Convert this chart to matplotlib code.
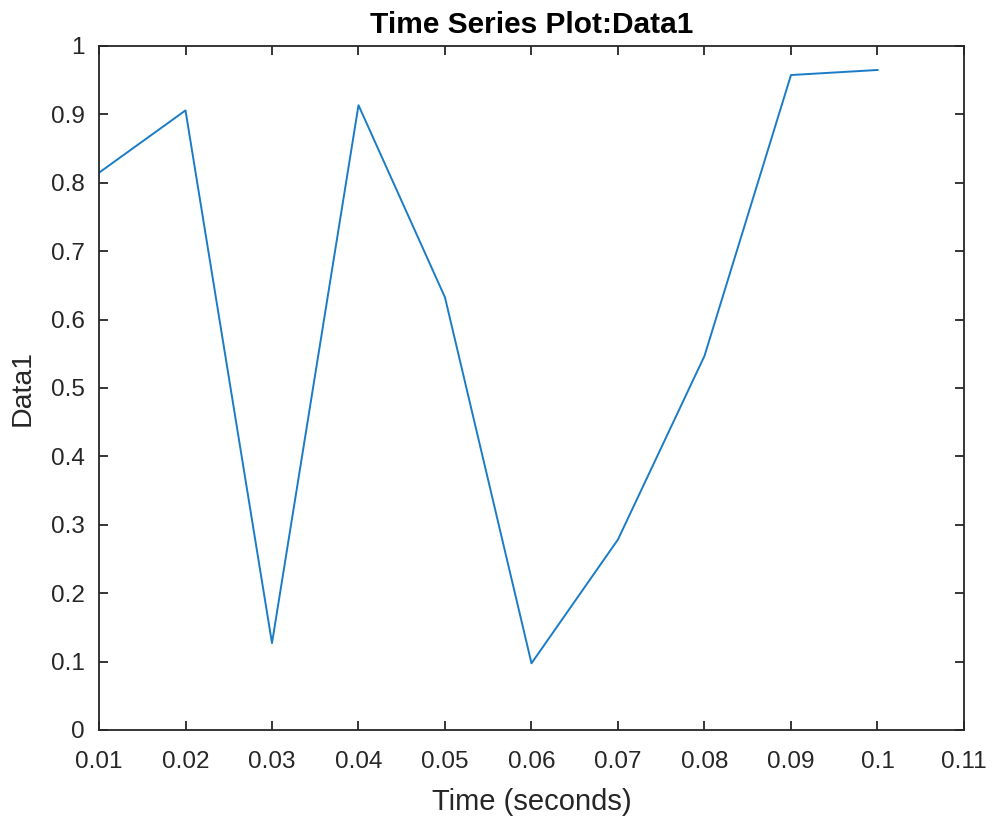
import matplotlib
matplotlib.use("Agg")
import matplotlib.pyplot as plt

time_s = [0.01, 0.02, 0.03, 0.04, 0.05, 0.06, 0.07, 0.08, 0.09, 0.10]
data1 = [0.8147, 0.9058, 0.1270, 0.9134, 0.6324, 0.0975, 0.2785, 0.5469, 0.9575, 0.9649]
x_ticks = [0.01, 0.02, 0.03, 0.04, 0.05, 0.06, 0.07, 0.08, 0.09, 0.10, 0.11]
x_tick_labels = ["0.01", "0.02", "0.03", "0.04", "0.05", "0.06", "0.07", "0.08", "0.09", "0.1", "0.11"]
y_ticks = [0, 0.1, 0.2, 0.3, 0.4, 0.5, 0.6, 0.7, 0.8, 0.9, 1]
y_tick_labels = ["0", "0.1", "0.2", "0.3", "0.4", "0.5", "0.6", "0.7", "0.8", "0.9", "1"]

plt.rcParams["font.family"] = ["Liberation Sans", "DejaVu Sans"]
axis_color = "#262626"

fig = plt.figure(figsize=(9.94, 8.18), dpi=100)
ax = fig.add_axes([0.0996, 0.1076, 0.8702, 0.8362])

ax.plot(time_s, data1, color="#1a7cc6", linewidth=1.4)

ax.set_xlim(0.01, 0.11)
ax.set_ylim(0, 1)
ax.set_xticks(x_ticks)
ax.set_xticklabels(x_tick_labels)
ax.set_yticks(y_ticks)
ax.set_yticklabels(y_tick_labels)

ax.tick_params(direction="in", length=6.5, width=1.3, colors=axis_color,
               labelsize=17.5, top=True, right=True)
ax.tick_params(axis="x", pad=15)
ax.tick_params(axis="y", pad=10)
for spine in ax.spines.values():
    spine.set_color(axis_color)
    spine.set_linewidth(1.3)

ax.set_title("Time Series Plot:Data1", fontsize=21.5, fontweight="bold",
             color="black", pad=9)
ax.set_xlabel("Time (seconds)", fontsize=21, color=axis_color, labelpad=11)
ax.set_ylabel("Data1", fontsize=20.5, color=axis_color, labelpad=11)

fig.savefig("out.png", dpi=100, facecolor="white")
